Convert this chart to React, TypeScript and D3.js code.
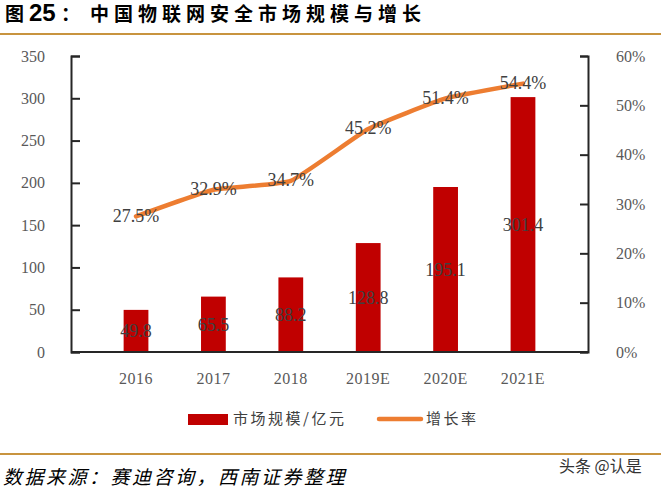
import React, { useEffect, useRef } from "react";
import * as d3 from "d3";

const years = ["2016", "2017", "2018", "2019E", "2020E", "2021E"];
const marketSize = [49.8, 65.5, 88.2, 128.8, 195.1, 301.4];
const growthRate = [27.5, 32.9, 34.7, 45.2, 51.4, 54.4];
const leftTicks = [0, 50, 100, 150, 200, 250, 300, 350];
const rightTicks = [0, 10, 20, 30, 40, 50, 60];

const titleText = "中国物联网安全市场规模与增长";
const sourceText = "数据来源：赛迪咨询，西南证券整理";
const barLegend = "市场规模/亿元";
const lineLegend = "增长率";
const watermark = "头条 @认是";

const W = 661;
const H = 489;
const margin = { top: 56, right: 73, bottom: 137, left: 71 };

const serif = "'Liberation Serif', 'Times New Roman', serif";
const cjk = "'Noto Sans CJK SC', sans-serif";

const App: React.FC = () => {
  const svgRef = useRef<SVGSVGElement>(null);

  useEffect(() => {
    if (!svgRef.current) return;
    const root = d3.select(svgRef.current);
    root.selectAll("*").remove();

    const innerWidth = W - margin.left - margin.right;
    const innerHeight = H - margin.top - margin.bottom;

    root.append("rect").attr("width", W).attr("height", H).attr("fill", "#fff");

    // Title and rules
    const title = root
      .append("text")
      .attr("y", 14)
      .attr("dy", "0.36em")
      .style("font-family", cjk)
      .style("font-weight", 700)
      .style("font-size", "19px")
      .attr("fill", "#000");
    title.append("tspan").attr("x", 5).text("图");
    title
      .append("tspan")
      .attr("x", 29)
      .style("font-family", "'Liberation Sans', Arial, sans-serif")
      .style("font-size", "24px")
      .text("25");
    title.append("tspan").attr("x", 61).text("：");
    title
      .append("tspan")
      .attr("x", 90)
      .style("letter-spacing", "5px")
      .text(titleText);

    root
      .append("line")
      .attr("x1", 0)
      .attr("x2", W)
      .attr("y1", 34)
      .attr("y2", 34)
      .attr("stroke", "#C8943F")
      .attr("stroke-width", 2.2);
    root
      .append("line")
      .attr("x1", 0)
      .attr("x2", W)
      .attr("y1", 454)
      .attr("y2", 454)
      .attr("stroke", "#C8943F")
      .attr("stroke-width", 2.2);

    const svg = root
      .append("g")
      .attr("transform", `translate(${margin.left},${margin.top})`);

    // Scales
    const x = d3.scaleBand().domain(years).range([0, innerWidth]).padding(0.68);
    const xc = (d: string) => (x(d) as number) + x.bandwidth() / 2;
    const y = d3.scaleLinear().domain([0, 350]).range([innerHeight, 0]);
    const y2 = d3.scaleLinear().domain([0, 60]).range([innerHeight, 0]);

    // Bars
    svg
      .selectAll("rect.bar")
      .data(marketSize)
      .enter()
      .append("rect")
      .attr("class", "bar")
      .attr("x", (_, i) => x(years[i]) as number)
      .attr("y", (d) => y(d))
      .attr("width", x.bandwidth())
      .attr("height", (d) => innerHeight - y(d))
      .attr("fill", "#C00000");

    // Axes
    const leftAxis = svg
      .append("g")
      .call(
        d3
          .axisLeft(y)
          .tickValues(leftTicks)
          .tickSize(-9)
          .tickPadding(26)
          .tickFormat((d) => `${d}`)
      );
    const rightAxis = svg
      .append("g")
      .attr("transform", `translate(${innerWidth},0)`)
      .call(
        d3
          .axisRight(y2)
          .tickValues(rightTicks)
          .tickSize(-8)
          .tickPadding(28)
          .tickFormat((d) => `${d}%`)
      );
    [leftAxis, rightAxis].forEach((a) => {
      a.select(".domain").attr("stroke", "#262626").attr("stroke-width", 2);
      a.selectAll(".tick line").attr("stroke", "#262626").attr("stroke-width", 2);
      a.selectAll(".tick text")
        .attr("fill", "#595959")
        .style("font-family", serif)
        .style("font-size", "16px");
    });

    svg
      .append("line")
      .attr("x1", 0)
      .attr("x2", innerWidth)
      .attr("y1", innerHeight)
      .attr("y2", innerHeight)
      .attr("stroke", "#262626")
      .attr("stroke-width", 2);

    // X labels
    svg
      .selectAll("text.xlab")
      .data(years)
      .enter()
      .append("text")
      .attr("class", "xlab")
      .attr("x", (d) => xc(d))
      .attr("y", innerHeight + 26)
      .attr("dy", "0.35em")
      .attr("text-anchor", "middle")
      .attr("fill", "#595959")
      .style("font-family", serif)
      .style("font-size", "16px")
      .style("letter-spacing", "0.5px")
      .text((d) => d);

    // Bar labels
    svg
      .selectAll("text.barlab")
      .data(marketSize)
      .enter()
      .append("text")
      .attr("class", "barlab")
      .attr("x", (_, i) => xc(years[i]))
      .attr("y", (d) => y(d / 2))
      .attr("dy", "0.35em")
      .attr("text-anchor", "middle")
      .attr("fill", "#404040")
      .style("font-family", serif)
      .style("font-size", "18px")
      .text((d) => d.toFixed(1));

    // Growth line
    const line = d3
      .line<number>()
      .x((_, i) => xc(years[i]))
      .y((d) => y2(d))
      .curve(d3.curveCardinal.tension(0.6));

    svg
      .append("path")
      .datum(growthRate)
      .attr("fill", "none")
      .attr("stroke", "#ED7D31")
      .attr("stroke-width", 4.5)
      .attr("stroke-linecap", "round")
      .attr("stroke-linejoin", "round")
      .attr("d", line);

    svg
      .selectAll("text.ratelab")
      .data(growthRate)
      .enter()
      .append("text")
      .attr("class", "ratelab")
      .attr("x", (_, i) => xc(years[i]))
      .attr("y", (d) => y2(d) - 1)
      .attr("dy", "0.35em")
      .attr("text-anchor", "middle")
      .attr("fill", "#404040")
      .style("font-family", serif)
      .style("font-size", "18px")
      .text((d) => `${d.toFixed(1)}%`);

    // Legend
    const legend = root.append("g");
    legend
      .append("rect")
      .attr("x", 188)
      .attr("y", 414)
      .attr("width", 40)
      .attr("height", 11)
      .attr("fill", "#C00000");
    legend
      .append("text")
      .attr("x", 233)
      .attr("y", 419)
      .attr("dy", "0.36em")
      .attr("fill", "#404040")
      .style("font-family", cjk)
      .style("font-size", "15px")
      .style("letter-spacing", "2.5px")
      .text(barLegend);
    legend
      .append("line")
      .attr("x1", 379)
      .attr("x2", 421)
      .attr("y1", 419)
      .attr("y2", 419)
      .attr("stroke", "#ED7D31")
      .attr("stroke-width", 4.5)
      .attr("stroke-linecap", "round");
    legend
      .append("text")
      .attr("x", 426)
      .attr("y", 419)
      .attr("dy", "0.36em")
      .attr("fill", "#404040")
      .style("font-family", cjk)
      .style("font-size", "15px")
      .style("letter-spacing", "2.5px")
      .text(lineLegend);

    // Source and watermark
    root
      .append("text")
      .attr("x", 3)
      .attr("y", 477)
      .attr("dy", "0.36em")
      .attr("fill", "#000")
      .style("font-family", cjk)
      .style("font-style", "italic")
      .style("font-size", "19px")
      .style("letter-spacing", "2.5px")
      .text(sourceText);
    root
      .append("text")
      .attr("x", 559)
      .attr("y", 466)
      .attr("dy", "0.36em")
      .attr("fill", "#333")
      .style("font-family", cjk)
      .style("font-size", "16px")
      .text(watermark);
  }, []);

  return (
    <svg
      ref={svgRef}
      width={W}
      height={H}
      style={{ position: "absolute", left: 0, top: 0, display: "block" }}
    />
  );
};

export default App;
